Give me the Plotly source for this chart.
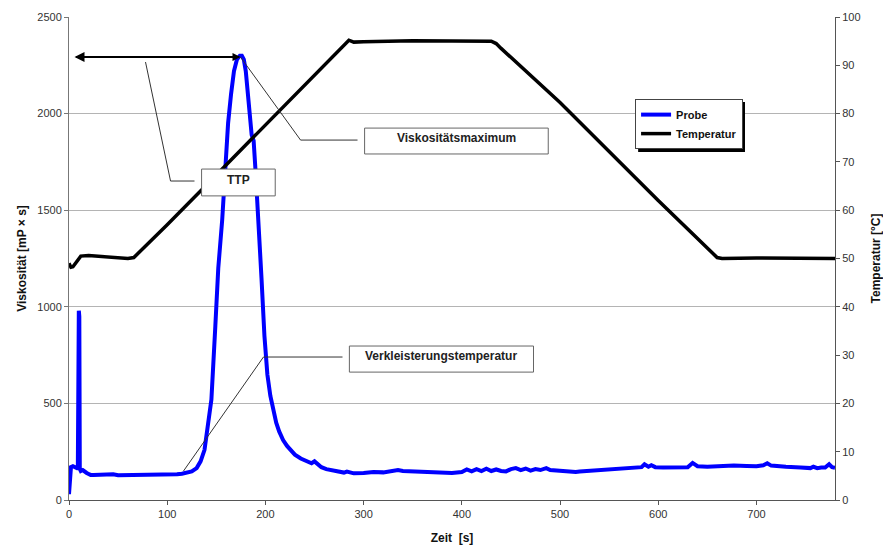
import plotly.graph_objects as go

# ---- data ----
zeit_probe = [0, 1, 2, 4, 6, 8, 9, 9.5, 10, 10.5, 11, 12, 14, 16, 18, 20, 22, 25, 30, 35, 40, 45, 50, 55, 60,
              70, 80, 90, 100, 105, 110, 115, 120, 125, 130, 134, 138, 141, 145, 149, 152, 156, 159, 162, 165,
              168, 171, 174, 176, 178, 180, 182, 184, 186, 188, 190, 193, 196, 199, 202, 205, 208, 211, 214,
              218, 222, 226, 230, 236, 242, 247, 250, 253, 257, 262, 270, 280, 283, 290, 300, 310, 320, 330,
              335, 340, 350, 360, 370, 380, 390, 400, 405, 410, 415, 420, 425, 430, 435, 440, 445, 450, 455,
              460, 465, 470, 475, 480, 486, 490, 500, 510, 516, 520, 530, 540, 550, 560, 570, 575, 580, 583,
              586, 590, 593, 597, 605, 620, 630, 635, 640, 650, 660, 677, 690, 700, 707, 711, 715, 720, 730,
              745, 755, 758, 762, 766, 770, 774, 777, 780]
viskositaet = [30, 130, 170, 175, 170, 165, 170, 950, 980, 950, 160, 150, 155, 145, 140, 135, 130, 130, 132, 130,
               135, 133, 128, 128, 130, 130, 131, 129, 128, 130, 133, 136, 140, 148, 165, 200, 260, 360, 520,
               900, 1200, 1450, 1720, 1950, 2100, 2220, 2280, 2300, 2300, 2280, 2220, 2130, 2000, 1890, 1860,
               1700, 1450, 1150, 850, 650, 540, 460, 400, 355, 310, 280, 255, 235, 215, 200, 190, 200, 185,
               170, 160, 150, 142, 147, 138, 140, 145, 143, 148, 155, 150, 148, 146, 145, 142, 140, 145, 158,
               148, 160, 150, 162, 150, 158, 150, 148, 160, 165, 155, 163, 152, 160, 155, 165, 155, 150, 148,
               145, 148, 152, 155, 158, 160, 165, 168, 172, 170, 185, 172, 180, 170, 168, 172, 170, 192, 175,
               172, 175, 178, 176, 175, 180, 190, 178, 175, 172, 168, 165, 172, 165, 168, 168, 185, 170, 167]

zeit_temp = [0, 2, 4, 8, 12, 20, 40, 60, 66, 70, 100, 150, 200, 250, 285, 290, 300, 350, 400, 430, 435,
             440, 500, 550, 600, 660, 665, 700, 740, 780]
temperatur = [49, 48.2, 48.3, 49.5, 50.5, 50.6, 50.3, 50.0, 50.2, 51, 57.0, 67.3, 77.6, 87.8, 95.2, 94.8,
              94.9, 95.1, 95.1, 95.0, 94.5, 93.5, 82.3, 72.1, 62.0, 50.2, 50.0, 50.1, 50.0, 50.0]

x_ticks = [0, 100, 200, 300, 400, 500, 600, 700]
y_ticks = [0, 500, 1000, 1500, 2000, 2500]
y2_ticks = [0, 10, 20, 30, 40, 50, 60, 70, 80, 90, 100]

# annotation anchors (data coords)
peak_x, peak_y = 174.6, 2293
arrow_left_x = 5.6
callouts = [
    # label, box x0, x1, y0, y1, elbow(x,y), join x, target(x,y)
    ("TTP", 135, 210, 1574, 1713, (103.4, 1651), 127.8, (77.9, 2267)),
    ("Viskositätsmaximum", 301, 488, 1791, 1925, (235.8, 1863), 293.8, (174.6, 2293)),
    ("Verkleisterungstemperatur", 285.5, 473, 662, 797, (198, 740), 278.5, (116.6, 150)),
]

FONT = "Liberation Sans, Arial, sans-serif"

fig = go.Figure()
fig.add_trace(go.Scatter(x=zeit_probe, y=viskositaet, mode="lines", name="<b>Probe</b>",
                         line=dict(color="#0000ff", width=4)))
fig.add_trace(go.Scatter(x=zeit_temp, y=temperatur, mode="lines", name="<b>Temperatur</b>",
                         line=dict(color="#000000", width=3.5), yaxis="y2"))

shapes = []
annotations = []
for label, bx0, bx1, by0, by1, elbow, joinx, target in callouts:
    shapes.append(dict(type="line", xref="x", yref="y", x0=elbow[0], y0=elbow[1], x1=joinx, y1=elbow[1],
                       line=dict(color="#333333", width=1)))
    shapes.append(dict(type="line", xref="x", yref="y", x0=elbow[0], y0=elbow[1], x1=target[0], y1=target[1],
                       line=dict(color="#333333", width=1)))
    shapes.append(dict(type="rect", xref="x", yref="y", x0=bx0, x1=bx1, y0=by0, y1=by1,
                       line=dict(color="#666666", width=1), fillcolor="white", layer="above"))
    annotations.append(dict(x=(bx0 + bx1) / 2, y=(by0 + by1) / 2 + 15, xref="x", yref="y", text="<b>%s</b>" % label,
                            showarrow=False, font=dict(family=FONT, size=12, color="#222222")))

# double-headed arrow
annotations.append(dict(x=arrow_left_x, y=peak_y, ax=peak_x, ay=peak_y, xref="x", yref="y", axref="x", ayref="y",
                        text="", showarrow=True, arrowhead=2, arrowsize=1, arrowwidth=2, arrowcolor="black"))
annotations.append(dict(x=peak_x, y=peak_y, ax=arrow_left_x, ay=peak_y, xref="x", yref="y", axref="x", ayref="y",
                        text="", showarrow=True, arrowhead=2, arrowsize=0.8, arrowwidth=2, arrowcolor="black"))

# legend drop shadow (legend box is drawn on top of it)
shapes.append(dict(type="rect", xref="paper", yref="paper", x0=0.743, x1=0.8825, y0=0.7205, y1=0.824,
                   fillcolor="black", line=dict(width=0), layer="above"))

fig.update_layout(
    width=883, height=551,
    margin=dict(l=69, r=48, t=17, b=51),
    paper_bgcolor="white", plot_bgcolor="white",
    font=dict(family=FONT, size=11, color="#333333"),
    showlegend=True,
    legend=dict(x=0.739, y=0.83, xanchor="left", yanchor="top", bgcolor="white",
                bordercolor="#444444", borderwidth=1, font=dict(family=FONT, size=11, color="#111111"),
                itemwidth=30, tracegroupgap=0, traceorder="normal"),
    xaxis=dict(range=[0, 780], tickvals=x_ticks, showgrid=False, zeroline=False, automargin=False,
               showline=True, linecolor="#555555", linewidth=1, ticks="outside", ticklen=4, tickcolor="#555555",
               title=dict(text="<b>Zeit  [s]</b>", font=dict(size=12, color="#111111"), standoff=14)),
    yaxis=dict(range=[0, 2500], tickvals=y_ticks, showgrid=True, gridcolor="#b4b4b4", gridwidth=1,
               zeroline=False, showline=True, linecolor="#777777", linewidth=1, ticks="outside", ticklen=4,
               tickcolor="#777777", automargin=False,
               title=dict(text="<b>Viskosität [mP × s]</b>", font=dict(size=12, color="#111111"), standoff=8)),
    yaxis2=dict(range=[0, 100], tickvals=y2_ticks, overlaying="y", side="right", showgrid=False,
                zeroline=False, showline=True, linecolor="#555555", linewidth=1, ticks="outside", ticklen=4,
                tickcolor="#555555", automargin=False,
                title=dict(text="<b>Temperatur [°C]</b>", font=dict(size=12, color="#111111"), standoff=14)),
    shapes=shapes,
    annotations=annotations,
)

fig.write_html("out.html")
